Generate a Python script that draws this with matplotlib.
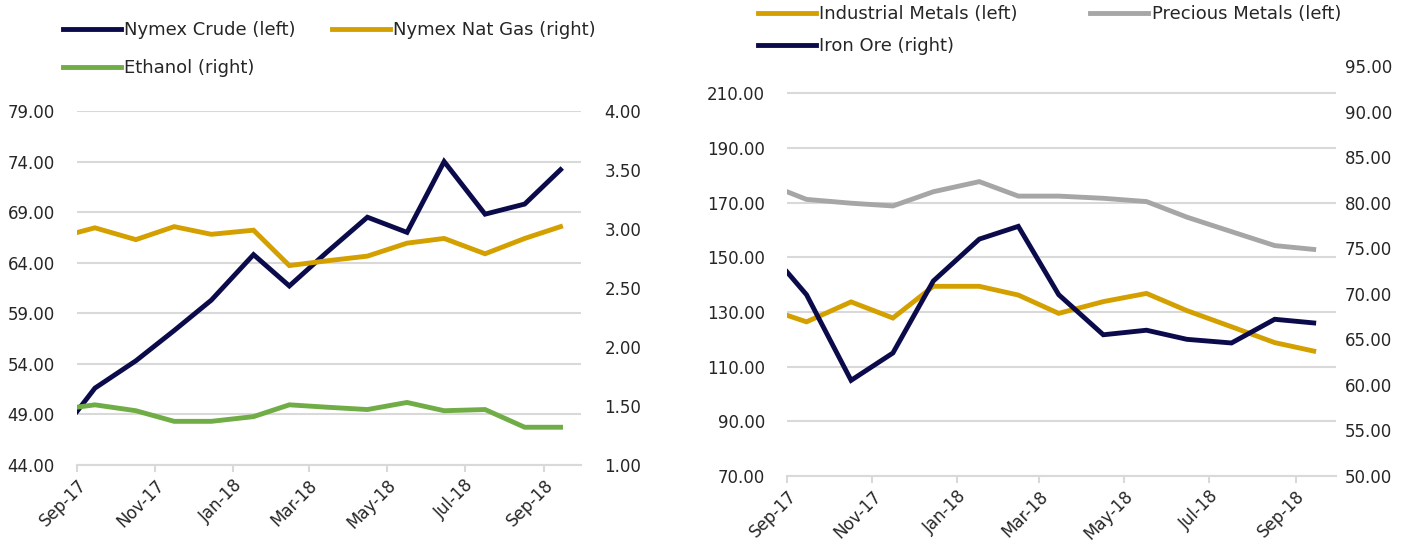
import matplotlib
matplotlib.use("Agg")
import matplotlib.pyplot as plt
import pandas as pd

# ---------------- data ----------------
dates = pd.to_datetime([
    "2017-09-15", "2017-09-29", "2017-10-31", "2017-11-30", "2017-12-29",
    "2018-01-31", "2018-02-28", "2018-03-29", "2018-04-30", "2018-05-31",
    "2018-06-29", "2018-07-31", "2018-08-31", "2018-09-28"])

nymex_crude = [49.3, 51.6, 54.3, 57.3, 60.3, 64.8, 61.7, 65.0, 68.5, 67.0, 74.0, 68.8, 69.8, 73.2]
nymex_natgas = [2.97, 3.01, 2.91, 3.02, 2.955, 2.99, 2.69, 2.73, 2.77, 2.88, 2.92, 2.79, 2.92, 3.02]
ethanol = [1.49, 1.51, 1.46, 1.37, 1.37, 1.41, 1.51, 1.49, 1.47, 1.53, 1.46, 1.47, 1.32, 1.32]

industrial_metals = [128.8, 126.4, 133.7, 127.8, 139.4, 139.4, 136.2, 129.5, 133.8, 136.8, 130.5, 124.6, 118.8, 115.7]
precious_metals = [174.0, 171.2, 169.8, 168.8, 174.0, 177.7, 172.4, 172.4, 171.6, 170.4, 164.7, 159.4, 154.3, 152.9]
iron_ore = [72.4, 69.9, 60.5, 63.5, 71.4, 76.0, 77.4, 69.9, 65.5, 66.0, 65.0, 64.6, 67.2, 66.8]

tick_dates = pd.to_datetime(["2017-09-15", "2017-11-15", "2018-01-15", "2018-03-15",
                             "2018-05-15", "2018-07-15", "2018-09-15"])
tick_labels = ["Sep-17", "Nov-17", "Jan-18", "Mar-18", "May-18", "Jul-18", "Sep-18"]

left1_ticks = [44, 49, 54, 59, 64, 69, 74, 79]
right1_ticks = [1.0, 1.5, 2.0, 2.5, 3.0, 3.5, 4.0]
left2_ticks = [70, 90, 110, 130, 150, 170, 190, 210]
right2_ticks = [50, 55, 60, 65, 70, 75, 80, 85, 90, 95]

# ---------------- style ----------------
NAVY = "#0B0B4B"
GOLD = "#D4A000"
GREEN = "#70AD47"
GRAY = "#A6A6A6"
GRID = "#D9D9D9"
TXT = "#262626"
FS = 12
LFS = 13
LW = 3.5

plt.rcParams["font.family"] = ["DejaVu Sans"]
plt.rcParams["font.size"] = FS

fig = plt.figure(figsize=(14.24, 5.5), dpi=100)
W, H = 1424, 550

def frac(x0, y0, x1, y1):
    return [x0 / W, 1 - y1 / H, (x1 - x0) / W, (y1 - y0) / H]

xmin = pd.Timestamp("2017-09-15")
xmax = pd.Timestamp("2018-10-14")

def style_axes(ax, ax2, lticks, rticks, lpad, rpad):
    for a in (ax, ax2):
        for s in ("top", "left", "right", "bottom"):
            a.spines[s].set_visible(False)
    ax.spines["bottom"].set_visible(True)
    ax.spines["bottom"].set_color(GRID)
    ax.spines["bottom"].set_linewidth(1.5)
    ax.set_xlim(xmin, xmax)
    ax.set_xticks(tick_dates)
    ax.set_xticklabels(tick_labels, rotation=45, ha="right", rotation_mode="anchor",
                       color=TXT, fontsize=FS)
    ax.tick_params(axis="x", length=5, width=1.5, color=GRID, pad=3)
    ax.set_yticks(lticks)
    ax.set_yticklabels([f"{v:.2f}" for v in lticks], color=TXT, fontsize=FS)
    ax.tick_params(axis="y", length=0, pad=lpad)
    ax.grid(axis="y", color=GRID, linewidth=1.5)
    ax.set_axisbelow(True)
    ax2.set_yticks(rticks)
    ax2.set_yticklabels([f"{v:.2f}" for v in rticks], color=TXT, fontsize=FS)
    ax2.tick_params(axis="y", length=0, pad=rpad)

# ---------------- left chart ----------------
ax = fig.add_axes(frac(77, 111, 581, 465))
ax2 = ax.twinx()
l_crude, = ax.plot(dates, nymex_crude, color=NAVY, lw=LW, solid_joinstyle="miter")
l_gas, = ax2.plot(dates, nymex_natgas, color=GOLD, lw=LW, solid_joinstyle="miter")
l_eth, = ax2.plot(dates, ethanol, color=GREEN, lw=LW, solid_joinstyle="miter")
ax.set_ylim(44, 79)
ax2.set_ylim(1.0, 4.0)
style_axes(ax, ax2, left1_ticks, right1_ticks, 16, 17)

fig.legend([l_crude, l_eth, l_gas],
           ["Nymex Crude (left)", "Ethanol (right)", "Nymex Nat Gas (right)"],
           loc="upper left", bbox_to_anchor=(63 / W, 1 - 21 / H), ncol=2,
           frameon=False, borderpad=0, borderaxespad=0, handlelength=3.2,
           handletextpad=0.2, columnspacing=2.0, labelspacing=1.12,
           fontsize=LFS, labelcolor=TXT)

# ---------------- right chart ----------------
bx = fig.add_axes(frac(787, 66, 1336, 476))
bx2 = bx.twinx()
l_ind, = bx.plot(dates, industrial_metals, color=GOLD, lw=LW, solid_joinstyle="miter")
l_prec, = bx.plot(dates, precious_metals, color=GRAY, lw=LW, solid_joinstyle="miter")
l_iron, = bx2.plot(dates, iron_ore, color=NAVY, lw=LW, solid_joinstyle="miter")
bx.set_ylim(70, 220)
bx2.set_ylim(50, 95)
style_axes(bx, bx2, left2_ticks, right2_ticks, 16, 6.5)

fig.legend([l_ind, l_iron, l_prec],
           ["Industrial Metals (left)", "Iron Ore (right)", "Precious Metals (left)"],
           loc="upper left", bbox_to_anchor=(758 / W, 1 - 5 / H), ncol=2,
           frameon=False, borderpad=0, borderaxespad=0, handlelength=3.2,
           handletextpad=0.2, columnspacing=4.0, labelspacing=0.8,
           fontsize=LFS, labelcolor=TXT)

fig.savefig("out.png", dpi=100, facecolor="white")
